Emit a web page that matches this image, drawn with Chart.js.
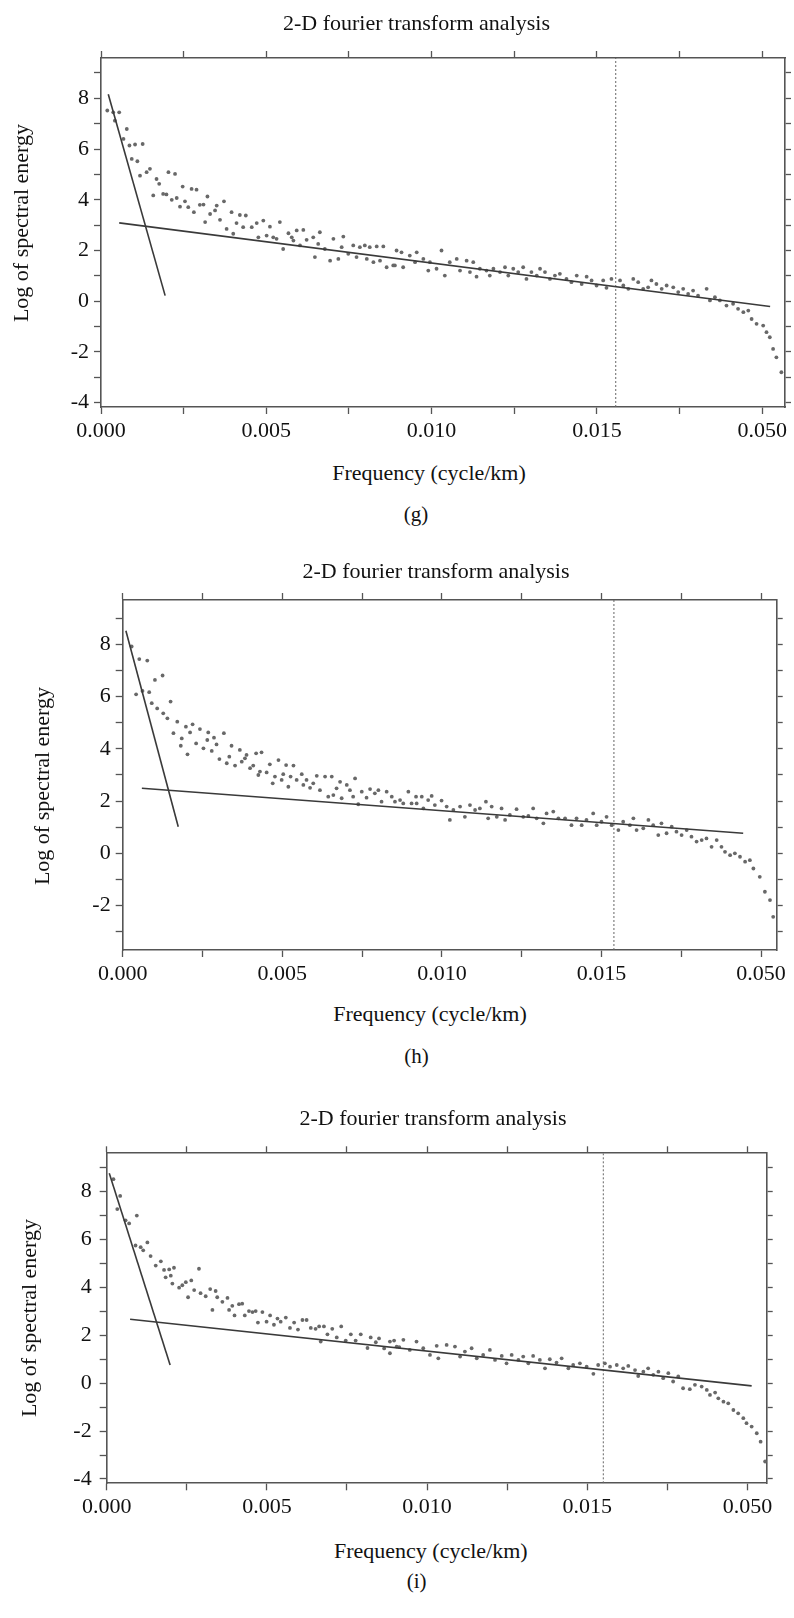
<!DOCTYPE html>
<html><head><meta charset="utf-8">
<script src="https://cdn.jsdelivr.net/npm/chart.js@4.4.1/dist/chart.umd.min.js"></script>
<style>
html,body{margin:0;padding:0;background:#fff;}
body{width:794px;height:1618px;position:relative;overflow:hidden;font-family:"Liberation Serif","Times New Roman",serif;color:#111;}
canvas{position:absolute;left:0;}
.t{position:absolute;white-space:nowrap;text-align:center;font-family:"Liberation Serif","Times New Roman",serif;}
</style></head><body>
<script>
// ---------------- DATA ----------------
// x positions are in units of 0.001 cycle/km along the plotted axis
const xTickLabels = ['0.000', '0.005', '0.010', '0.015', '0.050'];
const chartTitle = '2-D fourier transform analysis';
const xTitle = 'Frequency (cycle/km)';
const yTitle = 'Log of spectral energy';

// ---- panel (g)
const gFreq = [0.19,0.37,0.55,0.42,0.78,0.68,0.86,1.03,1.26,0.93,1.10,1.18,1.38,1.48,1.68,1.76,2.04,2.24,1.58,1.88,1.98,2.14,2.29,2.47,2.74,2.89,2.54,2.39,2.64,2.99,3.10,3.22,2.81,3.15,3.30,3.45,3.50,3.72,3.60,3.80,3.95,4.20,4.38,4.00,4.10,4.30,4.56,4.71,4.91,5.11,5.41,5.21,4.76,5.01,5.31,5.51,5.67,5.77,5.92,6.12,5.82,6.02,6.22,6.42,6.62,6.57,6.47,6.93,7.18,7.03,7.33,7.28,7.63,7.83,7.98,8.13,8.34,8.54,7.48,7.73,8.04,8.24,8.44,8.64,8.84,8.94,6.77,
  9.09,8.89,9.14,9.34,9.55,9.50,9.75,9.95,9.90,10.15,10.30,10.40,10.55,10.76,10.86,11.06,11.26,11.16,11.36,11.46,11.66,11.87,11.76,12.07,12.22,12.32,12.47,12.62,12.77,12.87,13.02,13.18,13.28,13.43,13.58,13.73,13.88,14.08,14.23,14.39,14.54,14.69,14.84,14.99,15.19,15.29,15.44,15.70,15.80,15.95,16.10,16.25,16.40,16.55,16.65,16.80,16.96,17.11,17.31,17.46,17.61,17.76,17.91,18.06,18.32,18.42,18.57,18.72,18.92,19.12,19.27,19.43,19.58,19.68,19.83,20.03,20.13,20.23,20.33,20.43,20.58];
const gEnergy = [7.52,7.45,7.45,7.12,6.79,6.40,6.14,6.18,6.20,5.61,5.52,4.95,5.09,5.22,4.82,4.63,5.09,5.02,4.17,4.23,4.21,4.00,4.07,4.52,4.43,4.40,3.94,3.73,3.71,3.80,3.81,4.13,3.51,3.12,3.44,3.58,3.77,3.94,3.21,2.85,3.51,3.40,3.38,2.66,3.08,2.92,2.92,3.08,3.18,2.94,3.12,2.52,2.52,2.59,2.46,2.06,2.68,2.52,2.79,2.81,2.39,2.20,2.42,2.52,2.72,2.26,1.74,1.60,1.67,2.46,2.55,2.13,2.20,2.13,2.20,2.13,2.16,2.16,1.87,1.74,1.67,1.54,1.60,1.34,1.41,2.00,2.06,
  1.93,1.41,1.34,1.80,1.93,1.54,1.67,1.54,1.21,1.28,2.00,1.01,1.54,1.67,1.21,1.60,1.54,1.15,0.97,1.28,1.21,1.28,1.01,1.15,1.34,1.01,1.28,1.15,1.34,0.88,1.15,1.01,1.28,1.15,0.88,1.01,1.08,0.88,0.75,1.01,0.68,0.97,0.82,0.62,0.82,0.53,0.88,0.82,0.62,0.49,0.88,0.75,0.49,0.55,0.82,0.68,0.49,0.62,0.55,0.36,0.49,0.29,0.42,0.22,0.49,0.03,0.16,0.03,-0.17,-0.10,-0.30,-0.43,-0.37,-0.70,-0.89,-0.96,-1.22,-1.42,-1.88,-2.21,-2.80];
const gSteepX = [0.22, 1.94];
const gSteepY = [8.16, 0.22];
const gFitX = [0.55, 20.24];
const gFitY = [3.09, -0.21];
const gCutoff = 15.57;

// ---- panel (h)
const hFreq = [0.28,0.52,0.77,1.01,1.25,0.42,0.62,0.83,0.91,1.08,1.27,1.40,1.50,1.59,1.71,1.85,1.82,1.98,2.11,2.19,2.03,2.30,2.42,2.53,2.65,2.68,2.79,2.86,2.94,3.03,3.17,3.26,3.34,3.41,3.52,3.67,3.73,3.83,3.88,3.99,4.09,4.18,4.35,4.25,4.30,4.51,4.61,4.70,4.77,4.88,4.98,5.03,5.12,5.19,5.26,5.35,5.45,5.61,5.66,5.76,5.87,5.97,6.08,6.18,6.34,6.44,6.55,6.60,6.70,6.81,6.86,7.02,7.12,7.22,7.28,7.38,7.49,7.64,7.75,7.90,8.01,8.11,8.27,8.43,8.53,8.69,8.79,8.95,9.05,9.19,
  9.21,9.37,9.57,9.68,9.42,9.78,9.99,10.15,10.25,10.36,10.57,10.72,10.88,11.04,11.19,11.38,11.45,11.56,11.72,11.87,11.98,12.13,12.34,12.55,12.71,12.86,12.97,13.18,13.28,13.49,13.65,13.86,14.06,14.22,14.38,14.53,14.74,14.85,15.00,15.16,15.32,15.53,15.68,15.89,16.00,16.10,16.31,16.47,16.62,16.78,16.88,17.04,17.20,17.35,17.51,17.67,17.82,17.98,18.14,18.29,18.45,18.61,18.76,18.87,19.03,19.18,19.34,19.50,19.65,19.76,19.96,20.12,20.28,20.38];
const hEnergy = [7.92,7.44,7.38,6.64,6.81,6.09,6.22,6.17,5.75,5.55,5.36,5.17,5.81,4.60,5.04,4.40,4.12,4.85,4.63,4.94,3.79,4.21,4.76,4.02,4.34,4.63,3.92,4.43,4.17,3.61,4.60,3.45,3.70,4.12,3.36,3.96,3.51,3.64,3.77,3.26,3.36,3.83,3.87,3.00,3.13,3.10,3.41,2.68,2.94,3.57,2.81,3.03,3.38,2.55,2.94,3.36,2.81,3.03,2.62,2.81,2.51,2.68,2.97,2.42,2.94,2.17,2.94,2.23,2.49,2.74,2.11,2.62,2.42,2.17,2.87,1.88,2.36,2.13,2.46,2.30,2.42,1.98,2.36,2.17,1.98,2.04,1.91,2.36,1.91,2.17,
  1.91,2.17,2.04,2.20,1.72,1.85,2.02,1.79,1.28,1.66,1.79,1.40,1.85,1.66,1.72,1.98,1.34,1.79,1.40,1.72,1.28,1.47,1.69,1.40,1.43,1.72,1.34,1.15,1.53,1.60,1.34,1.34,1.08,1.34,1.08,1.28,1.53,1.08,1.21,1.40,1.08,0.89,1.21,1.08,1.34,0.89,0.96,1.28,1.08,0.70,1.15,0.77,1.02,0.83,0.70,0.89,0.64,0.45,0.51,0.57,0.25,0.51,0.25,0.06,-0.07,0.00,-0.13,-0.32,-0.26,-0.58,-0.90,-1.47,-1.79,-2.43];
const hSteepX = [0.10, 1.74];
const hSteepY = [8.52, 1.02];
const hFitX = [0.60, 19.44];
const hFitY = [2.49, 0.77];
const hCutoff = 15.39;

// ---- panel (i)
const iFreq = [0.21,0.42,0.33,0.59,0.70,0.94,0.90,1.06,1.14,1.27,1.37,1.53,1.69,1.79,1.95,1.84,2.10,2.00,2.05,2.26,2.36,2.47,2.54,2.64,2.73,2.88,2.93,3.09,3.23,3.30,3.40,3.45,3.61,3.77,3.82,3.92,3.99,4.13,4.23,4.31,4.44,4.55,4.65,4.72,4.86,4.99,5.10,5.22,5.33,5.43,5.59,5.72,5.85,5.97,6.11,6.24,6.37,6.52,6.63,6.68,6.78,6.89,7.04,7.18,7.32,7.46,7.62,7.77,7.93,8.14,8.24,8.40,8.50,8.66,8.84,8.97,9.13,
  8.84,9.05,9.26,9.46,9.67,9.88,10.09,10.30,10.35,10.61,10.87,11.03,11.18,11.39,11.55,11.75,11.96,12.12,12.33,12.48,12.64,12.85,13.00,13.16,13.31,13.52,13.68,13.83,14.04,14.20,14.41,14.56,14.77,14.98,15.19,15.34,15.55,15.71,15.92,16.12,16.28,16.49,16.59,16.75,16.90,17.06,17.22,17.37,17.53,17.68,17.84,17.99,18.20,18.36,18.57,18.73,18.83,18.99,19.09,19.25,19.40,19.56,19.71,19.87,19.97,20.13,20.29,20.41,20.55];
const iEnergy = [8.52,7.82,7.27,6.80,6.67,7.00,5.75,5.68,5.55,5.88,5.31,4.91,5.09,4.73,4.75,4.42,4.82,4.49,4.16,3.99,4.09,4.22,3.59,4.29,3.89,4.78,3.76,3.63,3.93,3.06,3.85,3.59,3.40,3.56,3.06,3.23,2.83,3.30,3.32,2.83,3.01,2.97,3.01,2.53,2.97,2.57,2.83,2.44,2.70,2.57,2.74,2.31,2.53,2.24,2.64,2.64,2.31,2.27,2.37,1.74,2.37,2.04,2.27,1.91,2.37,1.78,2.04,1.78,2.04,1.47,1.91,1.71,1.87,1.45,1.25,1.78,1.51,
  1.74,1.53,1.81,1.39,1.74,1.46,1.18,1.56,1.04,1.60,1.53,1.11,1.32,1.46,1.04,1.18,1.39,0.97,1.14,0.83,1.18,0.97,1.11,0.83,1.14,0.97,0.62,1.00,0.86,1.04,0.62,0.76,0.83,0.69,0.39,0.76,0.83,0.69,0.76,0.62,0.72,0.55,0.30,0.48,0.62,0.35,0.48,0.21,0.42,0.07,0.28,-0.21,-0.25,-0.07,-0.14,-0.28,-0.49,-0.39,-0.63,-0.77,-0.84,-1.12,-1.26,-1.46,-1.67,-1.81,-2.09,-2.44,-3.27];
const iSteepX = [0.08, 1.98];
const iSteepY = [8.77, 0.76];
const iFitX = [0.73, 20.13];
const iFitY = [2.67, -0.11];
const iCutoff = 15.50;

// ---------------- RENDERING ----------------
const FONT = '"Liberation Serif", "Times New Roman", serif';
const FRAME = '#555';
const W = 794;
Chart.defaults.font.family = FONT;
Chart.defaults.color = '#111';

function pts(xs, ys) {
  const n = Math.min(xs.length, ys.length);
  const out = [];
  for (let k = 0; k < n; k++) out.push({x: xs[k], y: ys[k]});
  return out;
}

function addText(txt, cx, baseline, size, rotate) {
  const d = document.createElement('div');
  d.className = 't';
  d.textContent = txt;
  const lh = 26;
  d.style.fontSize = size + 'px';
  d.style.lineHeight = lh + 'px';
  d.style.width = '400px';
  d.style.height = lh + 'px';
  if (!rotate) {
    const B = (lh - 1.107 * size) / 2 + 0.891 * size;
    d.style.left = (cx - 200) + 'px';
    d.style.top = (baseline - B) + 'px';
  } else {
    d.style.left = (cx - 2.3 - 200) + 'px';
    d.style.top = (baseline - lh / 2) + 'px';
    d.style.transform = 'rotate(-90deg)';
  }
  document.body.appendChild(d);
}

function xLabel(v) {
  const k = v / 5;
  const r = Math.round(k);
  if (Math.abs(k - r) < 1e-6 && r >= 0 && r < xTickLabels.length) return xTickLabels[r];
  return '';
}
function yLabel(v) {
  const r = Math.round(v);
  return (Math.abs(v - r) < 1e-6 && r % 2 === 0) ? String(r) : '';
}

function gridOpts(len) {
  return {display: true, drawOnChartArea: false, drawTicks: true, tickLength: len, tickColor: FRAME, tickWidth: 1.3};
}
function borderOpts() { return {display: true, color: FRAME, width: 1.6}; }

function panel(cfg) {
  const a = cfg.area;
  const canvasTop = Math.round(a.t) - 30;
  const H = Math.round(a.b - canvasTop) + 50;
  const cv = document.createElement('canvas');
  cv.width = W; cv.height = H;
  cv.style.top = canvasTop + 'px';
  cv.style.width = W + 'px'; cv.style.height = H + 'px';
  document.body.appendChild(cv);
  const pad = {
    top: a.t - canvasTop - 7,
    left: a.l - 60,
    right: W - a.r - 7,
    bottom: H - (a.b - canvasTop) - 45
  };
  const yMin = cfg.yMin, yMax = cfg.yMax, xMax = cfg.xMax;
  const tickFont = {family: FONT, size: 22};
  new Chart(cv, {
    type: 'scatter',
    data: {datasets: [
      {data: pts(cfg.freq, cfg.energy), pointRadius: 1.9, pointBackgroundColor: '#686868', pointBorderWidth: 0, showLine: false, order: 3},
      {data: pts(cfg.steepX, cfg.steepY), showLine: true, pointRadius: 0, borderColor: '#3a3a3a', borderWidth: 1.6, order: 1},
      {data: pts(cfg.fitX, cfg.fitY), showLine: true, pointRadius: 0, borderColor: '#3a3a3a', borderWidth: 1.6, order: 1},
      {data: pts([cfg.cutoff, cfg.cutoff], [yMin, yMax]), showLine: true, pointRadius: 0, borderColor: '#666', borderWidth: 1, borderDash: [2, 2], order: 2}
    ]},
    options: {
      responsive: false, animation: false, devicePixelRatio: 1, events: [],
      layout: {padding: pad},
      plugins: {legend: {display: false}, tooltip: {enabled: false}, title: {display: false}},
      scales: {
        x: {type: 'linear', position: 'bottom', min: 0, max: xMax,
            afterFit: s => { s.height = 45; },
            border: borderOpts(), grid: gridOpts(7),
            ticks: {stepSize: 2.5, includeBounds: false, autoSkip: false, maxRotation: 0, minRotation: 0, padding: 4,
                    color: '#111', font: tickFont, callback: xLabel}},
        x2: {type: 'linear', position: 'top', min: 0, max: xMax,
            afterFit: s => { s.height = 7; },
            border: borderOpts(), grid: gridOpts(7),
            ticks: {display: false, stepSize: 2.5, includeBounds: false}},
        y: {type: 'linear', position: 'left', min: yMin, max: yMax,
            afterFit: s => { s.width = 60; },
            border: borderOpts(), grid: gridOpts(7),
            ticks: {stepSize: 1, includeBounds: false, autoSkip: false, padding: cfg.yPad,
                    color: '#111', font: tickFont, callback: yLabel}},
        y2: {type: 'linear', position: 'right', min: yMin, max: yMax,
            afterFit: s => { s.width = 7; },
            border: borderOpts(), grid: gridOpts(6),
            ticks: {display: false, stepSize: 1, includeBounds: false}}
      }
    }
  });
  const tx = cfg.text;
  addText(chartTitle, tx.title[0], tx.title[1], 22, false);
  addText(xTitle, tx.xt[0], tx.xt[1], 22, false);
  addText(yTitle, tx.yt[0], tx.yt[1], 22, true);
  addText(cfg.caption, tx.cap[0], tx.cap[1], 21, false);
}

panel({area: {l: 101, t: 58, r: 785, b: 407}, yMin: -4.17, yMax: 9.59, xMax: 20.69, yPad: 5,
  freq: gFreq, energy: gEnergy, steepX: gSteepX, steepY: gSteepY, fitX: gFitX, fitY: gFitY, cutoff: gCutoff,
  caption: '(g)', text: {title: [416.5, 30], xt: [429, 480], yt: [23, 222.5], cap: [416, 521]}});
panel({area: {l: 122.7, t: 600, r: 776.7, b: 950}, yMin: -3.70, yMax: 9.70, xMax: 20.49, yPad: 5,
  freq: hFreq, energy: hEnergy, steepX: hSteepX, steepY: hSteepY, fitX: hFitX, fitY: hFitY, cutoff: hCutoff,
  caption: '(h)', text: {title: [436, 578], xt: [430, 1021.7], yt: [44, 785.8], cap: [416.5, 1063]}});
panel({area: {l: 106.7, t: 1153.3, r: 766.7, b: 1483.3}, yMin: -4.18, yMax: 9.60, xMax: 20.60, yPad: 8,
  freq: iFreq, energy: iEnergy, steepX: iSteepX, steepY: iSteepY, fitX: iFitX, fitY: iFitY, cutoff: iCutoff,
  caption: '(i)', text: {title: [433, 1125], xt: [430.8, 1558.3], yt: [31.7, 1317.5], cap: [416.7, 1588]}});
</script>
</body></html>
